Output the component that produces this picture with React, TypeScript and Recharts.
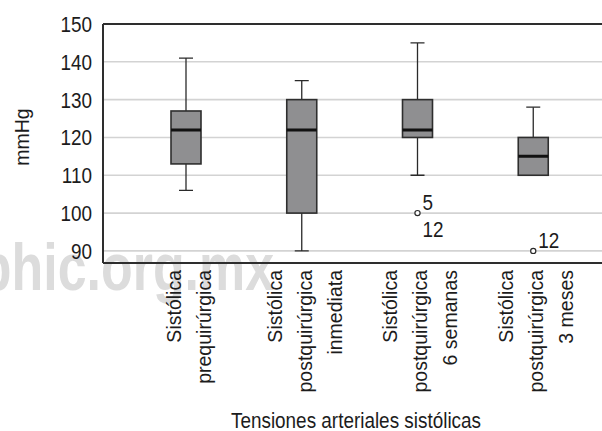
import { Bar, CartesianGrid, ComposedChart, Label, ReferenceLine, XAxis, YAxis } from "recharts";

// Systolic pressure (mmHg) at four time points, five-number summary per group
const categoryLabels = [
  ["Sistólica", "prequirúrgica"],
  ["Sistólica", "postquirúrgica", "inmediata"],
  ["Sistólica", "postquirúrgica", "6 semanas"],
  ["Sistólica", "postquirúrgica", "3 meses"],
];
const whiskerLow = [106, 90, 110, 110];
const q1 = [113, 100, 120, 110];
const median = [122, 122, 122, 115];
const q3 = [127, 130, 130, 120];
const whiskerHigh = [141, 135, 145, 128];
const outliers = [
  [],
  [],
  [{ value: 100, cases: ["5", "12"] }],
  [{ value: 90, cases: ["12"] }],
];
const yTicks = [90, 100, 110, 120, 130, 140, 150];

const data = categoryLabels.map((lines, i) => ({
  name: lines.join(" "),
  box: [q1[i], q3[i]],
  low: whiskerLow[i],
  q1: q1[i],
  median: median[i],
  q3: q3[i],
  high: whiskerHigh[i],
  outliers: outliers[i],
}));

const font = "'Liberation Sans', Arial, sans-serif";
const ink = "#1c1c1c";
const squeeze = 0.86; // horizontal text is set condensed

function NarrowText({ x, y, anchor = "start", size = 22, children }: any) {
  return (
    <text
      x={0}
      y={0}
      transform={`translate(${x} ${y}) scale(${squeeze} 1)`}
      textAnchor={anchor}
      fontFamily={font}
      fontSize={size}
      fill={ink}
    >
      {children}
    </text>
  );
}

function BoxShape(props: any) {
  const { x, y, width, height, payload } = props;
  const ppu = height / (payload.q3 - payload.q1);
  const yOf = (v: number) => y + (payload.q3 - v) * ppu;
  const cx = x + width / 2;
  const cap = 7;
  return (
    <g>
      <line x1={cx} x2={cx} y1={yOf(payload.high)} y2={y} stroke="#2a2a2a" strokeWidth={1.3} />
      <line x1={cx} x2={cx} y1={y + height} y2={yOf(payload.low)} stroke="#2a2a2a" strokeWidth={1.3} />
      <line x1={cx - cap} x2={cx + cap} y1={yOf(payload.high)} y2={yOf(payload.high)} stroke="#2a2a2a" strokeWidth={1.3} />
      <line x1={cx - cap} x2={cx + cap} y1={yOf(payload.low)} y2={yOf(payload.low)} stroke="#2a2a2a" strokeWidth={1.3} />
      <rect x={x} y={y} width={width} height={height} fill="#8f8f91" stroke="#2e2e2e" strokeWidth={1.6} />
      <line x1={x} x2={x + width} y1={yOf(payload.median)} y2={yOf(payload.median)} stroke="#111" strokeWidth={3} />
      {payload.outliers.map((o: { value: number; cases: string[] }, k: number) => {
        const oy = yOf(o.value);
        return (
          <g key={k}>
            <circle cx={cx} cy={oy} r={2.6} fill="#fff" stroke="#2a2a2a" strokeWidth={1.2} />
            {o.cases.map((c, j) => (
              <NarrowText key={j} x={cx + 5} y={j === 0 ? oy - 3 : oy + 24}>
                {c}
              </NarrowText>
            ))}
          </g>
        );
      })}
    </g>
  );
}

function CategoryTick(props: any) {
  const { x, payload } = props;
  const lines = categoryLabels.find((l) => l.join(" ") === payload.value) ?? [];
  const top = 270;
  return (
    <g>
      {lines.map((t, i) => {
        const bx = x + 10 + (i - (lines.length - 1) / 2) * 30;
        return (
          <text
            key={i}
            x={bx}
            y={top}
            transform={`rotate(-90 ${bx} ${top})`}
            textAnchor="end"
            fontFamily={font}
            fontSize={19.5}
            fill={ink}
          >
            {t}
          </text>
        );
      })}
    </g>
  );
}

function ValueTick(props: any) {
  const { x, y, payload } = props;
  return (
    <NarrowText x={x} y={y + 8} anchor="end">
      {payload.value}
    </NarrowText>
  );
}

export default function App() {
  return (
    <div style={{ position: "fixed", left: 0, top: 0, width: 602, height: 431, overflow: "hidden", background: "#fff" }}>
      <svg width={602} height={431} style={{ position: "absolute", left: 0, top: 0 }}>
        <text
          x={-26}
          y={290}
          transform="scale(0.775 1)"
          fontFamily={font}
          fontWeight="bold"
          fontSize={67}
          fill="#dcdcdc"
        >
          phic.org.mx
        </text>
      </svg>
      <div style={{ position: "absolute", left: 0, top: 0 }}>
        <ComposedChart width={612} height={431} data={data} margin={{ top: 24, right: 6, bottom: 0, left: 0 }}>
          <CartesianGrid horizontal vertical={false} stroke="#d3d3d3" strokeWidth={1.6} />
          <XAxis
            dataKey="name"
            height={168}
            padding={{ left: 25, right: 15 }}
            axisLine={{ stroke: "#2e2e2e", strokeWidth: 2 }}
            tickLine={false}
            tick={<CategoryTick />}
            interval={0}
          >
            <Label
              content={(p: any) => (
                <NarrowText x={356} y={p.viewBox.y + 165} anchor="middle">
                  Tensiones arteriales sistólicas
                </NarrowText>
              )}
            />
          </XAxis>
          <YAxis
            width={103}
            domain={[86.8, 150]}
            ticks={yTicks}
            allowDataOverflow
            axisLine={{ stroke: "#2e2e2e", strokeWidth: 2 }}
            tickLine={false}
            tickSize={0}
            tickMargin={11}
            tick={<ValueTick />}
          >
            <Label
              content={() => (
                <text
                  x={29}
                  y={137}
                  transform="rotate(-90 29 137)"
                  textAnchor="middle"
                  fontFamily={font}
                  fontSize={19.5}
                  fill={ink}
                >
                  mmHg
                </text>
              )}
            />
          </YAxis>
          <ReferenceLine y={150} stroke="#2e2e2e" strokeWidth={2} />
          <Bar dataKey="box" barSize={30} shape={<BoxShape />} isAnimationActive={false} />
        </ComposedChart>
      </div>
    </div>
  );
}
